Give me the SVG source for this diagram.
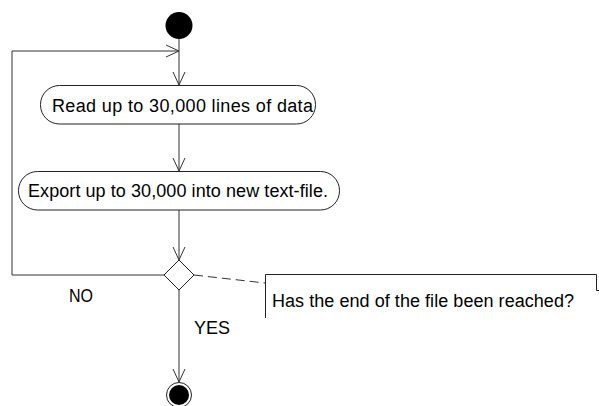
<svg xmlns="http://www.w3.org/2000/svg" width="599" height="406" viewBox="0 0 599 406">
<defs>
<marker id="open" viewBox="0 0 14 14" refX="13" refY="7" markerWidth="14" markerHeight="14" markerUnits="userSpaceOnUse" orient="auto">
<path d="M0,1 L13,7 L0,13" fill="none" stroke="#333" stroke-width="1"/>
</marker>
<style>
.ln{fill:none;stroke:#333;stroke-width:1}
.box{fill:#fff;stroke:#222;stroke-width:1}
.t{font-family:"Liberation Sans",Arial,sans-serif;font-size:18px;fill:#000}
</style>
</defs>
<rect width="599" height="406" fill="#fff"/>
<g id="connectors">
<line class="ln" x1="179" y1="39" x2="179" y2="85" marker-end="url(#open)"/>
<line class="ln" x1="179" y1="124" x2="179" y2="171" marker-end="url(#open)"/>
<line class="ln" x1="179" y1="210" x2="179" y2="260" marker-end="url(#open)"/>
<polyline class="ln" points="164,275 12,275 12,51 179,51" marker-end="url(#open)"/>
<line class="ln" x1="179" y1="290" x2="179" y2="382" marker-end="url(#open)"/>
<line class="ln" x1="194" y1="275" x2="265" y2="283" stroke-dasharray="9,5"/>
<text class="t" x="69" y="302" textLength="24" lengthAdjust="spacingAndGlyphs" font-size="16">NO</text>
<text class="t" x="194" y="334">YES</text>
</g>
<g id="start">
<circle cx="179" cy="25.5" r="13.5" fill="#000"/>
</g>
<g id="read">
<rect class="box" x="40.5" y="85.5" width="275" height="38.5" rx="19" ry="19"/>
<text class="t" x="52" y="112" textLength="261" lengthAdjust="spacing">Read up to 30,000 lines of data</text>
</g>
<g id="export">
<rect class="box" x="18.5" y="171.5" width="321" height="38.5" rx="19" ry="19"/>
<text class="t" x="28" y="197" textLength="300" lengthAdjust="spacing">Export up to 30,000 into new text-file.</text>
</g>
<g id="decision">
<polygon class="box" points="179,260 194,275 179,290 164,275"/>
</g>
<g id="note">
<path d="M265.5,318 V274.5 H596.5 V290.5 H599" fill="#fff" stroke="#222" stroke-width="1"/>
<text class="t" x="272" y="307" textLength="302" lengthAdjust="spacing">Has the end of the file been reached?</text>
</g>
<g id="end">
<circle cx="179" cy="395" r="12.5" fill="#fff" stroke="#222" stroke-width="1"/>
<circle cx="179" cy="395" r="10" fill="#000"/>
</g>
</svg>
